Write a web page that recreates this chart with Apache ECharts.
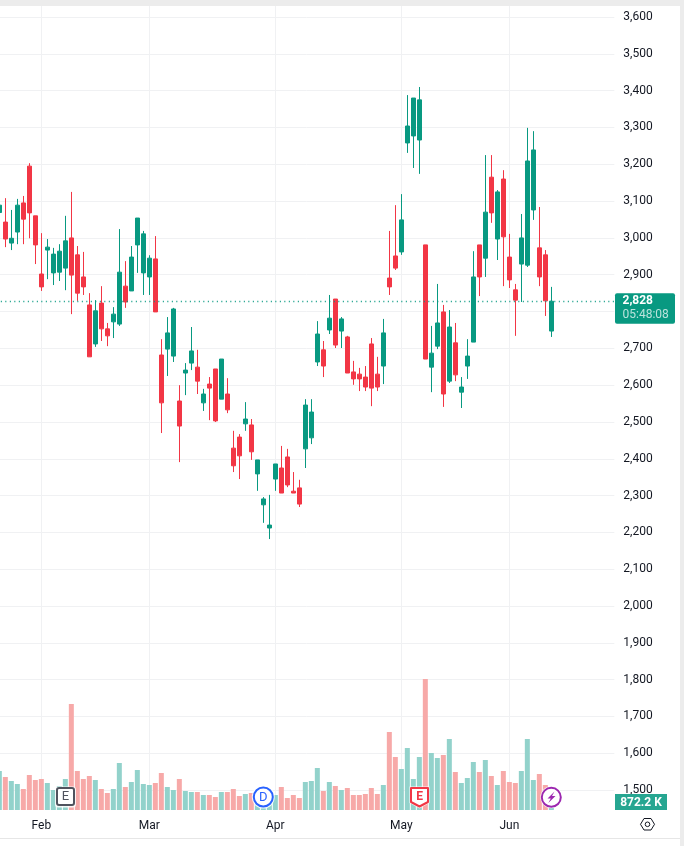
<!DOCTYPE html>
<html>
<head>
<meta charset="utf-8">
<style>
  html, body { margin: 0; padding: 0; background: #fff; }
  #chart { width: 684px; height: 846px; }
</style>
<script src="https://cdn.jsdelivr.net/npm/echarts@6/dist/echarts.min.js"></script>
</head>
<body>
<div id="chart"></div>
<script>
// Daily sessions: prices in points, volume in millions of shares.
const opens = [3069,3043,2986,3016,3095,3195,3060,2902,2967,2905,2907,2918,3000,2954,2894,2818,2712,2823,2753,2772,2766,2869,2856,2981,2905,2894,2943,
  2682,2698,2679,2557,2633,2660,2649,2552,2603,2644,2562,2576,2429,2459,2495,2492,2359,2275,2212,2345,2375,2405,2312,2321,2427,2457,2663,2696,2750,
  2834,2747,2731,2636,2630,2622,2712,2630,2652,2891,2951,2962,3258,3277,3266,2981,2649,2706,2799,2611,2715,2581,2652,2717,2981,2945,3165,2997,3160,
  2948,2859,2929,2926,3076,2973,2954,2747];
const closes = [3089,2997,2999,3089,3051,3068,2981,2867,2975,2956,2964,2992,2899,2850,2867,2677,2802,2753,2734,2793,2907,2826,2948,3054,3011,2945,2799,
  2552,2742,2807,2489,2641,2693,2611,2576,2592,2503,2671,2533,2381,2408,2508,2419,2397,2291,2220,2386,2307,2329,2307,2277,2546,2527,2739,2652,2782,
  2709,2780,2633,2617,2617,2595,2592,2595,2742,2867,2918,3049,3304,3380,3375,2671,2687,2769,2576,2758,2628,2595,2679,2894,2894,3070,3068,3125,3003,
  2886,2831,3000,3209,3239,2894,2829,2828];
const lows = [3050,2975,2967,2983,2983,2999,2929,2856,2888,2872,2883,2858,2793,2829,2845,2677,2704,2720,2706,2728,2761,2810,2856,2905,2845,2845,2799,
  2470,2625,2663,2391,2573,2641,2576,2530,2505,2500,2562,2524,2364,2345,2476,2397,2313,2226,2182,2313,2307,2323,2307,2269,2375,2440,2652,2622,2739,
  2701,2701,2633,2601,2584,2584,2543,2584,2603,2845,2913,2954,3231,3190,3174,2671,2581,2698,2541,2606,2611,2538,2617,2717,2842,2894,3041,2940,2869,
  2864,2734,2826,2921,3049,2869,2788,2731];
const highs = [3110,3108,3076,3106,3114,3203,3060,3013,2997,2973,2983,3060,3125,2978,2962,2850,2831,2869,2769,2812,3024,2937,2978,3054,3019,2953,3005,
  2725,2785,2810,2600,2660,2758,2696,2590,2622,2644,2671,2619,2476,2467,2554,2508,2397,2296,2302,2386,2435,2427,2364,2343,2562,2562,2774,2720,2845,
  2834,2785,2734,2666,2647,2652,2728,2677,2780,3019,3089,3119,3388,3380,3410,2981,2761,2875,2818,2804,2769,2622,2725,2964,2981,3225,3225,3130,3184,
  3011,2875,3065,3299,3290,3084,2967,2867];
const volumes = [15.6,13.2,11.6,10.4,8.4,14,12,12.4,10.8,8,9.6,12.4,42.4,15.6,12.4,13.6,12,8.4,6.8,8.4,18.8,9.2,11.2,16,10.4,10,10.8,14.8,9.2,8,12.4,7.6,7.2,7.2,6,6,5.2,7.2,7.2,
  8.4,5.6,6.4,6.8,4.8,4,4,6,9.2,4.8,6,4.8,11.2,11.6,16.8,7.6,11.2,9.6,8,8.8,6,6,6.4,8.8,6.4,10,31.2,21.2,16.4,24.8,12.4,21.2,52.4,22.8,20.8,22,28.4,15.2,
  10.8,12.8,19.2,15.2,20,13.6,10,15.6,11.2,10.8,15.6,28.4,12,14.4,10,0.8722];

// Month boundaries, given as session numbers on the time axis.
const monthSessions = [7, 25, 46, 67, 85];
const monthNames = ['Feb', 'Mar', 'Apr', 'May', 'Jun'];
const priceTicks = [1500,1600,1700,1800,1900,2000,2100,2200,2300,2400,2500,2600,2700,2800,2900,3000,3100,3200,3300,3400,3500,3600];
const lastPrice = 2828;
const countdown = '05:48:08';
const lastVolumeText = '872.2 K';
const FUTURE_SESSIONS = 10;

const UP = '#089981', DOWN = '#F23645', TEXT = '#131722', GRID = '#f0f1f3';
const FONT = 'Roboto, "Liberation Sans", sans-serif';

const sessions = Array.from({ length: opens.length + FUTURE_SESSIONS }, (_, i) => i);
const monthOf = new Map(monthSessions.map((s, k) => [s, monthNames[k]]));
const candles = opens.map((o, i) => [o, closes[i], lows[i], highs[i]]);
const volumeBars = volumes.map((v, i) => ({
  value: v,
  itemStyle: { color: closes[i] >= opens[i] ? '#92d2cb' : '#f7a9a8' }
}));

const chart = echarts.init(document.getElementById('chart'), null, { renderer: 'canvas' });

chart.setOption({
  animation: false,
  backgroundColor: '#fff',
  grid: { left: -3.67, right: 69.67, top: 6, bottom: 36, outerBoundsMode: 'none', containLabel: false },
  xAxis: {
    type: 'category',
    data: sessions,
    boundaryGap: true,
    axisLine: { show: false },
    axisTick: { show: false, alignWithLabel: true },
    axisLabel: {
      interval: (i) => monthOf.has(i),
      formatter: (v) => monthOf.get(Number(v)) || '',
      color: TEXT, fontFamily: FONT, fontSize: 12, margin: 10
    },
    axisPointer: { show: false },
    splitLine: { show: true, alignWithLabel: true, interval: (i) => monthOf.has(i), lineStyle: { color: GRID, width: 1 } }
  },
  yAxis: [
    {
      type: 'value',
      position: 'right',
      min: 1446,
      max: 3630,
      axisLine: { show: false },
      axisTick: { show: false, customValues: priceTicks },
      axisLabel: {
        customValues: priceTicks,
        formatter: (v) => Number(v).toLocaleString('en-US'),
        color: TEXT, fontFamily: FONT, fontSize: 12, margin: 9, padding: [2, 0, 0, 0]
      },
      splitLine: { show: true, lineStyle: { color: GRID, width: 1 } }
    },
    {
      type: 'value',
      min: 0,
      max: 321.6,
      show: false,
      splitLine: { show: false }
    }
  ],
  series: [
    {
      name: 'Volume',
      type: 'bar',
      yAxisIndex: 1,
      data: volumeBars,
      barWidth: 5,
      z: 2,
      silent: true
    },
    {
      name: 'Price',
      type: 'candlestick',
      data: candles,
      barWidth: 4,
      z: 3,
      silent: true,
      itemStyle: { color: UP, color0: DOWN, borderColor: UP, borderColor0: DOWN, borderWidth: 1 },
      markLine: {
        silent: true,
        symbol: 'none',
        animation: false,
        label: { show: false },
        lineStyle: { color: UP, width: 1.3, type: [1, 3.5] },
        data: [{ yAxis: lastPrice }]
      }
    }
  ]
});

// Scale tags and event markers, placed from the same axes as the data.
const tagY = chart.convertToPixel({ yAxisIndex: 0 }, lastPrice);
const markerY = 797;
const badgeFont = '13px ' + FONT;

chart.setOption({
  graphic: [
    // page frame around the chart card
    { type: 'rect', z: 50, shape: { x: 0, y: 0, width: 684, height: 6 }, style: { fill: '#ececec' } },
    { type: 'rect', z: 50, shape: { x: 680, y: 0, width: 4, height: 846 }, style: { fill: '#ececec' } },
    { type: 'rect', z: 50, shape: { x: 0, y: 838, width: 680, height: 1 }, style: { fill: '#e6e6e6' } },

    // last price tag
    { type: 'rect', z: 60, shape: { x: 615, y: tagY - 8, width: 60, height: 30.5, r: 2 }, style: { fill: UP } },
    { type: 'text', z: 61, style: { x: 622.5, y: tagY, text: lastPrice.toLocaleString('en-US'), fill: '#fff', font: 'bold 12px ' + FONT, verticalAlign: 'middle' } },
    { type: 'text', z: 61, style: { x: 622.5, y: tagY + 14, text: countdown, fill: 'rgba(255,255,255,0.72)', font: '12px ' + FONT, verticalAlign: 'middle' } },

    // last volume tag
    { type: 'rect', z: 60, shape: { x: 615, y: 794, width: 52, height: 16 }, style: { fill: '#26a691' } },
    { type: 'text', z: 61, style: { x: 641, y: 802.5, text: lastVolumeText, fill: '#fff', font: 'bold 12px ' + FONT, align: 'center', verticalAlign: 'middle' } },

    // earnings marker
    { type: 'rect', z: 60, shape: { x: 55, y: 786.5, width: 21, height: 21, r: 3 }, style: { fill: 'rgba(255,255,255,0.85)' } },
    { type: 'rect', z: 61, shape: { x: 57, y: 788, width: 17, height: 17, r: 2 }, style: { fill: '#fff', stroke: '#50535e', lineWidth: 2 } },
    { type: 'text', z: 62, style: { x: 65.5, y: markerY, text: 'E', fill: '#50535e', font: badgeFont, align: 'center', verticalAlign: 'middle' } },

    // dividend marker
    { type: 'circle', z: 60, shape: { cx: 263.3, cy: markerY, r: 11.5 }, style: { fill: 'rgba(255,255,255,0.85)' } },
    { type: 'circle', z: 61, shape: { cx: 263.3, cy: markerY, r: 9.5 }, style: { fill: '#fff', stroke: '#2962ff', lineWidth: 2 } },
    { type: 'text', z: 62, style: { x: 263.3, y: markerY + 0.5, text: 'D', fill: '#2962ff', font: badgeFont, align: 'center', verticalAlign: 'middle' } },

    // upcoming earnings marker
    { type: 'polygon', z: 60, shape: { points: [[409.5, 786.5], [429.5, 786.5], [429.5, 803], [419.5, 808.5], [409.5, 803]] }, style: { fill: 'rgba(255,255,255,0.85)' } },
    { type: 'polygon', z: 61, shape: { points: [[411, 788], [428, 788], [428, 802], [419.5, 806.5], [411, 802]] }, style: { fill: '#fff', stroke: DOWN, lineWidth: 2, lineJoin: 'round' } },
    { type: 'text', z: 62, style: { x: 419.5, y: 797, text: 'E', fill: DOWN, font: 'bold 12px ' + FONT, align: 'center', verticalAlign: 'middle' } },

    // news marker with a lightning bolt
    { type: 'circle', z: 60, shape: { cx: 551.3, cy: 797.3, r: 11 }, style: { fill: 'rgba(255,255,255,0.85)' } },
    { type: 'circle', z: 61, shape: { cx: 551.3, cy: 797.3, r: 9.5 }, style: { fill: '#fff', stroke: '#9c27b0', lineWidth: 2 } },
    { type: 'polygon', z: 62, shape: { points: [[554.5, 791.5], [547.5, 798.5], [550.8, 798.5], [548.3, 803], [555.5, 796], [552, 796]] }, style: { fill: '#9c27b0' } },

    // scale settings button
    { type: 'polygon', z: 60, shape: { points: [[640.5, 824.3], [644, 818.5], [651, 818.5], [654.5, 824.3], [651, 830], [644, 830]] }, style: { fill: '#fff', stroke: TEXT, lineWidth: 1 } },
    { type: 'circle', z: 61, shape: { cx: 647.5, cy: 824.3, r: 2.3 }, style: { fill: '#fff', stroke: TEXT, lineWidth: 1 } }
  ]
});
</script>
</body>
</html>
